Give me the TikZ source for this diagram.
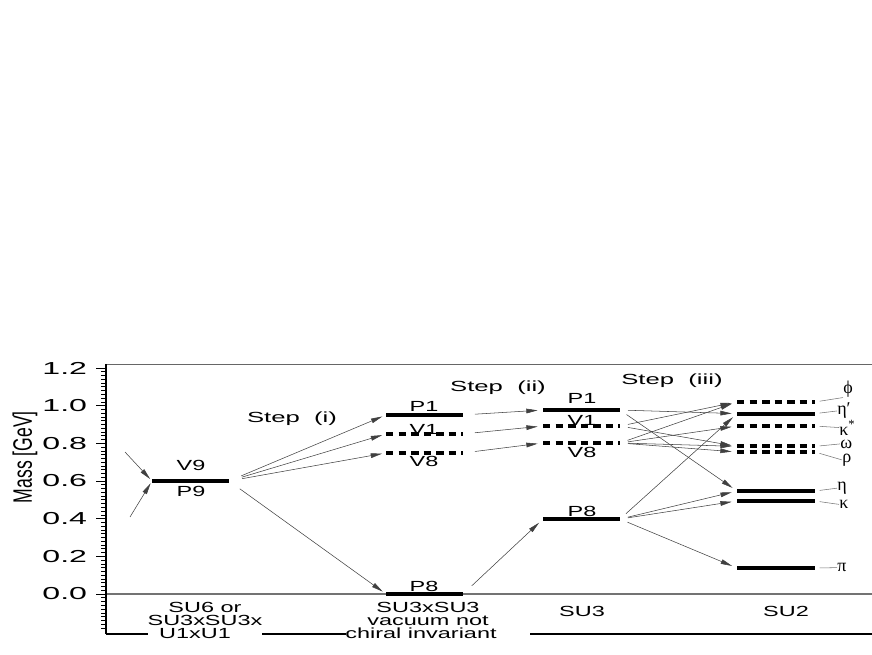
\documentclass[tikz,border=0pt]{standalone}
\usepackage{fontspec}
\setmainfont[FakeStretch=1.6]{Liberation Sans}
\newfontfamily\stepfont[FakeStretch=1.75]{Liberation Sans}
\newfontfamily\tickfont[FakeStretch=1.85]{Liberation Sans}
\newfontfamily\axisfont[FakeStretch=0.66]{Liberation Sans}
\newfontfamily\greekfont{Liberation Serif}
\usetikzlibrary{arrows.meta}

\begin{document}
\begin{tikzpicture}[
    x=0.75pt, y=141.225pt,
    lvl/.style={line width=3pt},
    dlvl/.style={line width=3pt, dash pattern=on 5.6pt off 3.8pt},
    arr/.style={->, draw=black!75, line width=0.4pt, shorten <=6pt, shorten >=4pt},
    lead/.style={draw=black!55, line width=0.4pt, shorten <=3.5pt},
    glab/.style={anchor=west, inner sep=0pt, font=\fontsize{13.5}{14}\greekfont},
    >={Triangle[length=8.5pt, width=3.5pt]},
    font=\fontsize{11}{9.75}\selectfont
]
    \useasboundingbox (0,-0.3187) rectangle (872,3.1546);

    % 边框与零线
    \draw[black!60, line width=0.6pt] (106,1.2215) -- (872,1.2215);
    \draw[black!55, line width=0.8pt] (106,0) -- (872,0);
    \draw[line width=0.8pt] (106,1.2215) -- (106,-0.2124);
    \draw[line width=0.8pt] (106,-0.2124) -- (148,-0.2124);
    \draw[line width=0.8pt] (262,-0.2124) -- (346,-0.2124);
    \draw[line width=0.8pt] (530,-0.2124) -- (872,-0.2124);

    % 刻度
    \foreach \i in {-9,...,60}
        \draw[line width=0.5pt] (106,{\i*0.02}) -- ++(-5,0);
    \foreach \m/\t [count=\k] in {0/0.0, 0.2/0.2, 0.4/0.4, 0.6/0.6, 0.8/0.8, 1/1.0, 1.2/1.2}
        \draw[line width=0.5pt] (106,\m) -- ++(-10,0)
            node[left, inner xsep=6.5pt, inner ysep=0pt, font=\fontsize{13}{14}\tickfont] (tick\k) {\t};
    \node[rotate=90, font=\fontsize{20}{22}\axisfont] (mass) at (25,0.727) {Mass [GeV]};

    % SU6 能级
    \draw[lvl] (152,0.6) coordinate (P9w) -- (229,0.6) coordinate (P9e);
    \node (V9) at (191,0.685) {V9};
    \node (P9) at (191,0.542) {P9};
    \coordinate (in1) at (125,0.754);
    \coordinate (in2) at (130,0.409);
    \draw[arr, shorten <=0pt, shorten >=2pt] (in1) -- (P9w);
    \draw[arr, shorten <=0pt, shorten >=2pt] (in2) -- (P9w);

    % SU3xSU3 能级
    \draw[lvl] (386,0.951) coordinate (P1aw) -- (463,0.951) coordinate (P1ae);
    \draw[dlvl] (386,0.85) coordinate (V1aw) -- (463,0.85) coordinate (V1ae);
    \draw[dlvl] (386,0.749) coordinate (V8aw) -- (463,0.749) coordinate (V8ae);
    \draw[lvl] (386,0) coordinate (P8aw) -- (463,0) coordinate (P8ae);
    \node (P1a) at (424,0.995) {P1};
    \node (V1a) at (424,0.876) {V1};
    \node (V8a) at (424,0.703) {V8};
    \node (P8a) at (424,0.040) {P8};

    % SU3 能级
    \draw[lvl] (543,0.977) coordinate (P1bw) -- (620,0.977) coordinate (P1be);
    \draw[dlvl] (543,0.892) coordinate (V1bw) -- (620,0.892) coordinate (V1be);
    \draw[dlvl] (543,0.802) coordinate (V8bw) -- (620,0.802) coordinate (V8be);
    \draw[lvl] (543,0.398) coordinate (P8bw) -- (620,0.398) coordinate (P8be);
    \node (P1b) at (582,1.036) {P1};
    \node (V1b) at (582,0.919) {V1};
    \node (V8b) at (582,0.754) {V8};
    \node (P8b) at (582,0.437) {P8};

    % SU2 能级
    \draw[dlvl] (737,1.02) coordinate (phiw) -- (815,1.02) coordinate (phie);
    \draw[lvl] (737,0.958) coordinate (etapw) -- (815,0.958) coordinate (etape);
    \draw[dlvl] (737,0.892) coordinate (Kstw) -- (815,0.892) coordinate (Kste);
    \draw[dlvl] (737,0.784) coordinate (omegaw) -- (815,0.784) coordinate (omegae);
    \draw[dlvl] (737,0.754) coordinate (rhow) -- (815,0.754) coordinate (rhoe);
    \draw[lvl] (737,0.547) coordinate (etaw) -- (815,0.547) coordinate (etae);
    \draw[lvl] (737,0.494) coordinate (Kw) -- (815,0.494) coordinate (Ke);
    \draw[lvl] (737,0.138) coordinate (piw) -- (815,0.138) coordinate (pie);

    % 粒子名称
    \node[glab] (phi) at (843,1.088) {ϕ};
    \node[glab] (etap) at (837,0.972) {η′};
    \node[glab] (Kst) at (839,0.884) {κ\textsuperscript{*}};
    \node[glab] (omega) at (840,0.797) {ω};
    \node[glab] (rho) at (842,0.712) {ρ};
    \node[glab] (eta) at (837,0.562) {η};
    \node[glab] (K) at (839,0.476) {κ};
    \node[glab] (pi) at (837,0.140) {π};
    \draw[lead] (phie) -- (phi.south west);
    \draw[lead] (etape) -- (etap.west);
    \draw[lead] (Kste) -- (Kst.west);
    \draw[lead] (omegae) -- (omega.west);
    \draw[lead] (rhoe) -- (rho.west);
    \draw[lead] (etae) -- (eta.west);
    \draw[lead] (Ke) -- (K.west);
    \draw[lead] (pie) -- (pi.west);

    % 1. Step (i)
    \node[font=\fontsize{11}{12}\stepfont] (stepi) at (292,0.929) {Step~~(i)};
    \foreach \t in {P1aw, V1aw, V8aw, P8aw}
        \draw[arr, shorten <=10pt, shorten >=3pt] (P9e) -- (\t);

    % 2. Step (ii)
    \node[font=\fontsize{11}{12}\stepfont] (stepii) at (498,1.094) {Step~~(ii)};
    \draw[arr, shorten <=9pt] (P1ae) -- (P1bw);
    \draw[arr, shorten <=9pt] (V1ae) -- (V1bw);
    \draw[arr, shorten <=9pt] (V8ae) -- (V8bw);
    \draw[arr, shorten <=9pt] (P8ae) -- (P8bw);

    % 3. Step (iii)
    \node[font=\fontsize{11}{12}\stepfont] (stepiii) at (672,1.131) {Step~~(iii)};
    \foreach \s/\t in {P1be/etapw, P1be/etaw, V1be/phiw, V1be/omegaw,
                       V8be/phiw, V8be/Kstw, V8be/omegaw, V8be/rhow,
                       P8be/etapw, P8be/etaw, P8be/Kw, P8be/piw}
        \draw[arr] (\s) -- (\t);

    % 对称性名称
    \node[align=center] (grpa) at (205,-0.104) {SU6 or\\SU3xSU3x};
    \node (grpab) at (195,-0.210) {U1xU1};
    \node[align=center] (grpb) at (428,-0.104) {SU3xSU3\\vacuum not};
    \node (grpbb) at (421,-0.210) {chiral invariant};
    \node (grpc) at (582,-0.092) {SU3};
    \node (grpd) at (786,-0.092) {SU2};
\end{tikzpicture}
\end{document}
